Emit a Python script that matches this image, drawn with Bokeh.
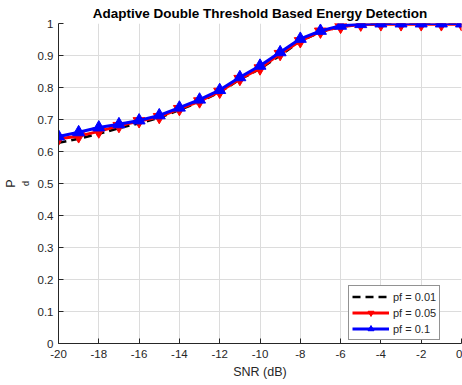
from bokeh.plotting import figure
from bokeh.models import Range1d, Legend, LegendItem, Title, FixedTicker
from bokeh.embed import file_html
from bokeh.resources import INLINE

snr = [-20, -19, -18, -17, -16, -15, -14, -13, -12, -11, -10, -9, -8, -7, -6, -5, -4, -3, -2, -1, 0]
pd_001 = [0.627, 0.640, 0.655, 0.673, 0.688, 0.705, 0.730, 0.755, 0.785, 0.825, 0.858, 0.900, 0.945, 0.973, 0.990, 0.997, 0.999, 1.0, 1.0, 1.0, 1.0]
pd_005 = [0.640, 0.648, 0.663, 0.680, 0.695, 0.708, 0.733, 0.757, 0.787, 0.827, 0.860, 0.905, 0.945, 0.975, 0.990, 0.997, 0.998, 0.998, 0.998, 0.998, 0.998]
pd_01 = [0.647, 0.660, 0.675, 0.685, 0.697, 0.713, 0.737, 0.762, 0.792, 0.832, 0.868, 0.910, 0.952, 0.977, 0.993, 0.998, 1.0, 1.0, 1.0, 1.0, 1.0]
labels = ["pf = 0.01", "pf = 0.05", "pf = 0.1"]
x_ticks = [-20, -18, -16, -14, -12, -10, -8, -6, -4, -2, 0]
y_ticks = [0, 0.1, 0.2, 0.3, 0.4, 0.5, 0.6, 0.7, 0.8, 0.9, 1]

FONT = "Liberation Sans"
TXT = "#262626"

p = figure(frame_width=403, frame_height=320, output_backend="svg", toolbar_location=None,
           x_range=Range1d(-20, 0), y_range=Range1d(0, 1),
           min_border_left=58, min_border_right=1, min_border_top=23, min_border_bottom=42)
p.title.text = "Adaptive Double Threshold Based Energy Detection"
p.title.align = "center"
p.title.text_font = FONT
p.title.text_font_size = "13.5px"
p.title.text_font_style = "bold"
p.title.text_color = "black"
p.title.standoff = 5
p.title.offset = 0
p.outline_line_color = None
p.background_fill_color = "white"

for ax in (p.xaxis[0], p.yaxis[0]):
    ax.major_label_text_font = FONT
    ax.major_label_text_font_size = "11.5px"
    ax.major_label_text_color = TXT
    ax.axis_line_color = TXT
    ax.major_tick_line_color = TXT
    ax.major_tick_in = 5
    ax.major_tick_out = 0
    ax.minor_tick_line_color = None
p.xaxis.ticker = FixedTicker(ticks=x_ticks)
p.yaxis.ticker = FixedTicker(ticks=y_ticks)
p.xaxis.major_label_overrides = {t: str(t) for t in x_ticks}
p.yaxis.major_label_overrides = {t: ("0" if t == 0 else ("1" if t == 1 else str(t))) for t in y_ticks}
p.xaxis.axis_label = "SNR (dB)"
p.xaxis.axis_label_text_font = FONT
p.xaxis.axis_label_text_font_size = "12.5px"
p.xaxis.axis_label_text_font_style = "normal"
p.xaxis.axis_label_text_color = TXT
p.xaxis.axis_label_standoff = 4
p.xaxis.major_label_standoff = 6
p.yaxis.major_label_standoff = 5

# y-axis label: subscript "d" as the axis label, "P" as an outer side title
p.yaxis.axis_label = "d"
p.yaxis.axis_label_text_font = FONT
p.yaxis.axis_label_text_font_size = "9px"
p.yaxis.axis_label_text_font_style = "normal"
p.yaxis.axis_label_text_color = TXT
p.yaxis.axis_label_standoff = 4
p.add_layout(Title(text="P", align="center", text_font=FONT, text_font_size="12.5px",
                   text_font_style="normal", text_color=TXT, standoff=0, offset=-8), "left")

p.xgrid.grid_line_color = "#dcdcdc"
p.ygrid.grid_line_color = "#dcdcdc"

r0 = p.line(snr, pd_001, line_color="black", line_width=2.5, line_dash="8 5")
r1l = p.line(snr, pd_005, line_color="red", line_width=3)
r1s = p.scatter(snr, pd_005, marker="inverted_triangle", size=12, fill_color="red", line_color="red")
r2l = p.line(snr, pd_01, line_color="blue", line_width=3)
r2s = p.scatter(snr, pd_01, marker="triangle", size=12, fill_color="blue", line_color="blue")

legend = Legend(items=[LegendItem(label=labels[0], renderers=[r0]),
                       LegendItem(label=labels[1], renderers=[r1l, r1s]),
                       LegendItem(label=labels[2], renderers=[r2l, r2s])],
                location=(290, 3))
legend.label_text_font = FONT
legend.label_text_font_size = "11px"
legend.label_text_color = TXT
legend.glyph_width = 37
legend.glyph_height = 15
legend.label_height = 15
legend.spacing = 1
legend.padding = 3
legend.margin = 0
legend.label_standoff = 4
legend.border_line_color = TXT
legend.border_line_width = 1.5
legend.background_fill_alpha = 1
p.add_layout(legend)

open("out.html", "w").write(file_html(p, INLINE))
